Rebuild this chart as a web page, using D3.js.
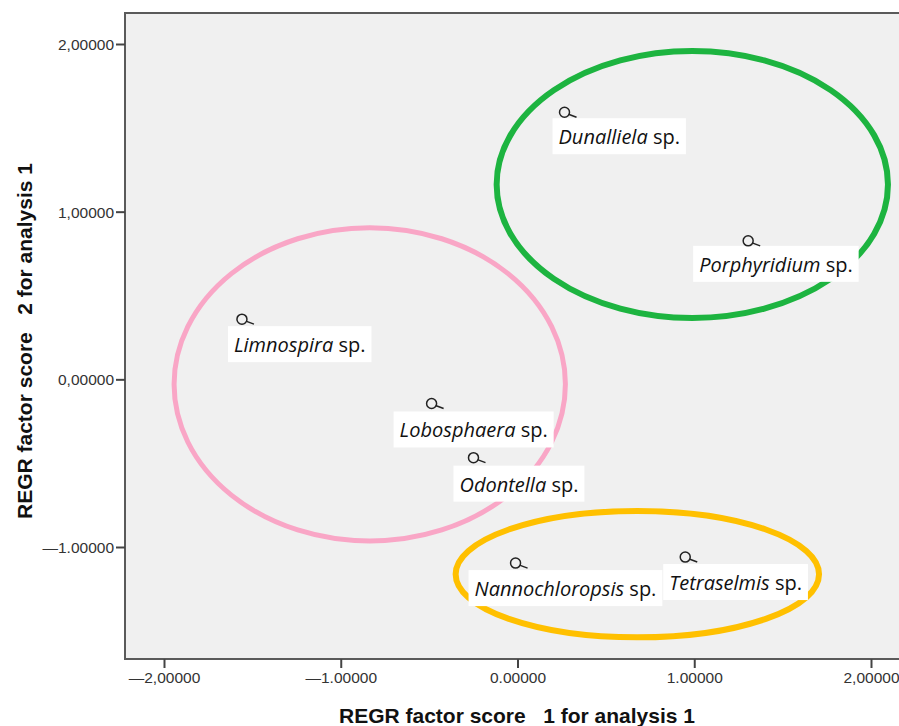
<!DOCTYPE html>
<html>
<head>
<meta charset="utf-8">
<script src="https://cdn.jsdelivr.net/npm/d3@7"></script>
<style>
  body { margin: 0; background: #fff; }
  svg { display: block; }
</style>
</head>
<body>
<svg id="chart"></svg>
<script>
let w = 899;
let h = 726;

// species and their factor scores
const species = ['Dunalliela', 'Porphyridium', 'Limnospira', 'Lobosphaera', 'Odontella', 'Nannochloropsis', 'Tetraselmis'];
const score1 = [0.266, 1.305, -1.559, -0.486, -0.249, -0.011, 0.949];
const score2 = [1.593, 0.826, 0.359, -0.144, -0.467, -1.096, -1.060];

// tick labels as printed
const xTicks = [-2, -1, 0, 1, 2];
const xTickLabels = ['\u20142,00000', '\u20141.00000', '0.00000', '1.00000', '2,00000'];
const yTicks = [-1, 0, 1, 2];
const yTickLabels = ['\u20141.00000', '0,00000', '1,00000', '2,00000'];

// group ellipses (centre and radii in score units)
const groupCx = [0.989, -0.836, 0.678];
const groupCy = [1.162, -0.03, -1.162];
const groupRx = [1.107, 1.107, 1.028];
const groupRy = [0.796, 0.934, 0.377];
const groupColor = ['#1db440', '#f9a6c6', '#ffc000'];

// label box offsets from each point (pixels)
const labelDx = [-12, -55, -14, -38, -20, -47, -22];
const labelDy = [6, 5, 7, 8, 8, 7, 7];

function createGraph() {
    const chart = d3.select('#chart')
        .attr('width', w)
        .attr('height', h);

    const x = d3.scaleLinear().domain([-2, 2]).range([164, 871]);
    const y = d3.scaleLinear().domain([-1, 2]).range([547, 44]);

    const left = 125, top = 13, right = 915, bottom = 659;

    chart.append('rect')
        .attr('x', left)
        .attr('y', top)
        .attr('width', right - left)
        .attr('height', bottom - top)
        .style('fill', '#f0f0f0')
        .style('stroke', '#5a5a5a')
        .style('stroke-width', 2);

    // ellipses
    chart.selectAll('ellipse')
        .data(groupCx)
        .enter()
        .append('ellipse')
        .attr('cx', d => x(d))
        .attr('cy', (d, i) => y(groupCy[i]))
        .attr('rx', (d, i) => x(groupRx[i]) - x(0))
        .attr('ry', (d, i) => y(0) - y(groupRy[i]))
        .style('fill', 'none')
        .style('stroke', (d, i) => groupColor[i])
        .style('stroke-width', (d, i) => i == 1 ? 5 : 6);

    // axes
    const xAxis = chart.append('g')
        .attr('transform', `translate(0,${bottom})`)
        .call(d3.axisBottom(x).tickValues(xTicks).tickSize(9).tickPadding(4)
            .tickFormat((d, i) => xTickLabels[i]));
    const yAxis = chart.append('g')
        .attr('transform', `translate(${left},0)`)
        .call(d3.axisLeft(y).tickValues(yTicks).tickSize(9).tickPadding(2)
            .tickFormat((d, i) => yTickLabels[i]));

    [xAxis, yAxis].forEach(a => {
        a.select('.domain').remove();
        a.selectAll('line').style('stroke', '#444').style('stroke-width', 2);
        a.selectAll('text')
            .style('font-family', 'Liberation Sans, Arial, sans-serif')
            .style('font-size', '15.5px')
            .style('fill', '#333');
    });
    yAxis.selectAll('text').attr('dy', '0.35em');

    // axis titles
    chart.append('text')
        .attr('x', 517)
        .attr('y', 723)
        .style('text-anchor', 'middle')
        .style('font-family', 'Liberation Sans, Arial, sans-serif')
        .style('font-weight', 'bold')
        .style('font-size', '21px')
        .style('fill', '#111')
        .style('white-space', 'pre')
        .text('REGR factor score   1 for analysis 1');

    chart.append('text')
        .attr('transform', 'translate(32,341) rotate(-90)')
        .style('text-anchor', 'middle')
        .style('font-family', 'Liberation Sans, Arial, sans-serif')
        .style('font-weight', 'bold')
        .style('font-size', '21px')
        .style('fill', '#111')
        .style('white-space', 'pre')
        .text('REGR factor score   2 for analysis 1');

    // labels
    const labels = chart.selectAll('g.lab')
        .data(species)
        .enter()
        .append('g')
        .attr('class', 'lab')
        .attr('transform', (d, i) => `translate(${x(score1[i]) + labelDx[i]},${y(score2[i]) + labelDy[i]})`);

    const txt = labels.append('text')
        .attr('x', 6)
        .attr('y', 26)
        .style('font-family', 'Open Sans, sans-serif')
        .style('font-size', '20px')
        .style('fill', '#111');
    txt.append('tspan').style('font-style', 'italic').text(d => d);
    txt.append('tspan').text(' sp.');

    labels.each(function() {
        const g = d3.select(this);
        const bb = g.select('text').node().getBBox();
        g.insert('rect', 'text')
            .attr('x', 0)
            .attr('y', 0)
            .attr('width', bb.width + 12)
            .attr('height', 36)
            .style('fill', '#fff');
    });

    // leader tails and points
    chart.selectAll('line.tail')
        .data(species)
        .enter()
        .append('line')
        .attr('class', 'tail')
        .attr('x1', (d, i) => x(score1[i]) + 4)
        .attr('y1', (d, i) => y(score2[i]) + 2)
        .attr('x2', (d, i) => x(score1[i]) + 12)
        .attr('y2', (d, i) => y(score2[i]) + 5)
        .style('stroke', '#222')
        .style('stroke-width', 1.5);

    chart.selectAll('circle')
        .data(species)
        .enter()
        .append('circle')
        .attr('cx', (d, i) => x(score1[i]))
        .attr('cy', (d, i) => y(score2[i]))
        .attr('r', 5)
        .style('fill', 'none')
        .style('stroke', '#222')
        .style('stroke-width', 1.5);
}

createGraph();
</script>
</body>
</html>
